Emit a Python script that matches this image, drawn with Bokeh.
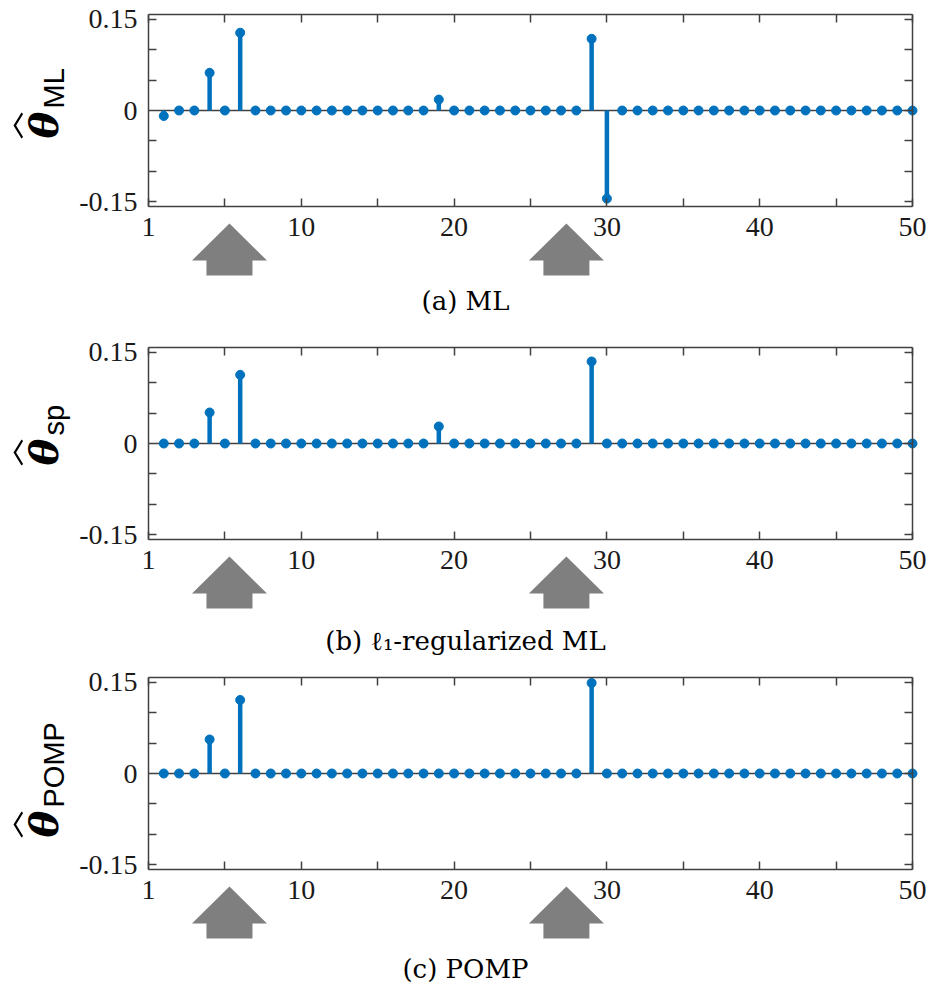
import math
from bokeh.plotting import figure
from bokeh.layouts import column
from bokeh.models import FixedTicker, LinearAxis, Range1d
from bokeh.core.properties import value
from bokeh.embed import file_html
from bokeh.resources import INLINE

# ---------------- data ----------------
idx = list(range(1, 51))

theta_ml = [-0.009, 0, 0, 0.062, 0, 0.128, 0, 0, 0, 0,
            0, 0, 0, 0, 0, 0, 0, 0, 0.018, 0,
            0, 0, 0, 0, 0, 0, 0, 0, 0.118, -0.145,
            0, 0, 0, 0, 0, 0, 0, 0, 0, 0,
            0, 0, 0, 0, 0, 0, 0, 0, 0, 0]

theta_sp = [0, 0, 0, 0.051, 0, 0.113, 0, 0, 0, 0,
            0, 0, 0, 0, 0, 0, 0, 0, 0.028, 0,
            0, 0, 0, 0, 0, 0, 0, 0, 0.135, 0,
            0, 0, 0, 0, 0, 0, 0, 0, 0, 0,
            0, 0, 0, 0, 0, 0, 0, 0, 0, 0]

theta_pomp = [0, 0, 0, 0.056, 0, 0.121, 0, 0, 0, 0,
              0, 0, 0, 0, 0, 0, 0, 0, 0, 0,
              0, 0, 0, 0, 0, 0, 0, 0, 0.149, 0,
              0, 0, 0, 0, 0, 0, 0, 0, 0, 0,
              0, 0, 0, 0, 0, 0, 0, 0, 0, 0]

arrow_x = [5.3, 27.35]           # positions of the grey arrows (index axis)

x_ticks = [0, 5, 10, 15, 20, 25, 30, 35, 40, 45, 50]
x_tick_labels = {0: "1", 5: "", 10: "10", 15: "", 20: "20", 25: "",
                 30: "30", 35: "", 40: "40", 45: "", 50: "50"}
y_ticks = [-0.15, -0.1, -0.05, 0, 0.05, 0.1, 0.15]
y_tick_labels = {-0.15: "-0.15", -0.1: "", -0.05: "", 0: "0",
                 0.05: "", 0.1: "", 0.15: "0.15"}

subscripts = ["ML", "sp", "POMP"]
captions = ["(a) ML", "(b) \u2113\u2081-regularized ML", "(c) POMP"]

# ---------------- style / layout ----------------
W = 928
BOX_L, BOX_W, BOX_T, BOX_H = 148, 764, 14, 192   # axes box in canvas pixels
XMIN, XMAX = 0, 50
YMIN, YMAX = -0.158, 0.158
XPP = (XMAX - XMIN) / BOX_W          # data per pixel
YPP = (YMAX - YMIN) / BOX_H
AX = "#404040"
BLUE = "#0072BD"
GREY = "#7f7f7f"
FIX = 0.36                           # baseline correction (fraction of font size)
THETA_FS, SUB_FS, CAP_FS = 40, 29, 26


def X(px):
    """canvas pixel x -> data x"""
    return XMIN + (px - BOX_L) * XPP


def Y(py):
    """pixel offset below the axes box top -> data y"""
    return YMAX - py * YPP


def make_axis(ticks, overrides, show, loc, bounds):
    ax = LinearAxis(fixed_location=loc, bounds=bounds)
    ax.ticker = FixedTicker(ticks=ticks)
    ax.major_label_overrides = overrides
    ax.axis_line_color = AX
    ax.axis_line_width = 1.5
    ax.major_tick_line_color = AX
    ax.major_tick_line_width = 1.5
    ax.major_tick_in = 8
    ax.major_tick_out = 0
    ax.minor_tick_line_color = None
    ax.major_label_text_font = "Liberation Serif"
    ax.major_label_text_color = "#1a1a1a"
    if show:
        ax.major_label_text_font_size = "28px"
        ax.major_label_standoff = 11
    else:
        ax.major_label_text_font_size = "0px"
        ax.major_label_standoff = 0
    return ax


def panel(vals, sub, caption, height, theta_off, cap_off):
    p = figure(width=W, height=height,
               x_range=Range1d(X(0), X(W)),
               y_range=Range1d(Y(height - BOX_T), Y(-BOX_T)),
               x_axis_location=None, y_axis_location=None,
               output_backend="svg", toolbar_location=None,
               min_border=0, min_border_left=0, min_border_right=0,
               min_border_top=0, min_border_bottom=0)
    p.grid.visible = False
    p.outline_line_color = None
    p.background_fill_color = "white"
    p.border_fill_color = "white"

    p.add_layout(make_axis(x_ticks, x_tick_labels, True, YMIN, (XMIN, XMAX)), "below")
    p.add_layout(make_axis(y_ticks, y_tick_labels, True, XMIN, (YMIN, YMAX)), "left")
    p.add_layout(make_axis(x_ticks, {t: "" for t in x_ticks}, False, YMAX, (XMIN, XMAX)), "above")
    p.add_layout(make_axis(y_ticks, {t: "" for t in y_ticks}, False, XMAX, (YMIN, YMAX)), "right")

    # baseline
    p.segment(x0=[idx[0] - 0.5], y0=[0], x1=[idx[-1]], y1=[0],
              line_color=AX, line_width=1.5)
    # stems and markers
    p.segment(x0=idx, y0=[0] * len(idx), x1=idx, y1=vals,
              line_color=BLUE, line_width=4.5)
    p.scatter(idx, vals, size=9, fill_color=BLUE, line_color=BLUE)

    # grey arrows below the axis box
    hh = 37.5 * XPP
    sh = 23.0 * XPP
    y_tip, y_base, y_bot = Y(BOX_H + 17), Y(BOX_H + 54), Y(BOX_H + 69)
    p.patches(xs=[[a, a + hh, a + sh, a + sh, a - sh, a - sh, a - hh] for a in arrow_x],
              ys=[[y_tip, y_base, y_base, y_bot, y_bot, y_base, y_base] for a in arrow_x],
              fill_color=GREY, line_color=None)

    # y label: hat-theta with subscript (text rotated 90 deg)
    p.text(x=[X(57 - FIX * THETA_FS)], y=[Y(theta_off)], text=["\u03b8"],
           angle=math.pi / 2, text_align="left", text_baseline="alphabetic",
           text_font=value("DejaVu Serif"), text_font_style="bold italic",
           text_font_size=value(f"{THETA_FS}px"), text_color="black")
    p.text(x=[X(64 - FIX * SUB_FS)], y=[Y(theta_off - 30)], text=[sub],
           angle=math.pi / 2, text_align="left", text_baseline="alphabetic",
           text_font=value("Liberation Sans"), text_font_size=value(f"{SUB_FS}px"),
           text_color="black")
    cy = theta_off - 13
    hx = [21, 13, 21, 22.6, 15.6, 22.6]
    hy = [cy - 13, cy, cy + 13, cy + 11.5, cy, cy - 11.5]
    p.patch(x=[X(v) for v in hx], y=[Y(v) for v in hy],
            fill_color="black", line_color=None)

    # caption
    p.text(x=[X(465)], y=[Y(BOX_H + cap_off - FIX * CAP_FS)], text=[caption],
           text_align="center", text_baseline="alphabetic",
           text_font=value("DejaVu Serif"), text_font_size=value(f"{CAP_FS}px"),
           text_color="black")
    return p


p1 = panel(theta_ml, subscripts[0], captions[0], 333, 124, 104)
p2 = panel(theta_sp, subscripts[1], captions[1], 330, 118, 111)
p3 = panel(theta_pomp, subscripts[2], captions[2], 325, 160, 109)

layout = column(p1, p2, p3, spacing=0)
open("out.html", "w").write(file_html(layout, INLINE))
